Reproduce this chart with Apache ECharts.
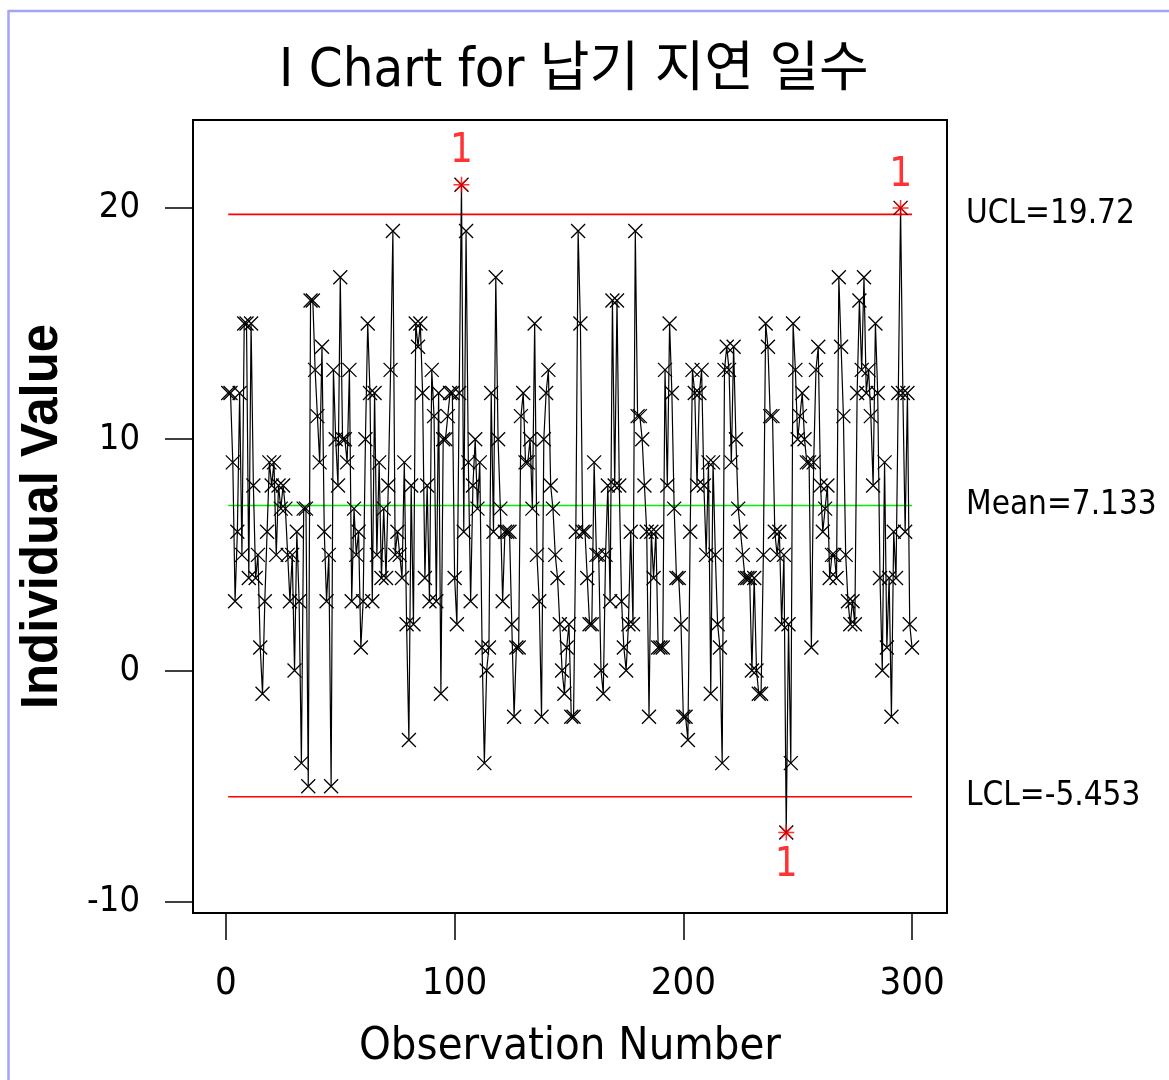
<!DOCTYPE html>
<html>
<head>
<meta charset="utf-8">
<script src="https://cdn.jsdelivr.net/npm/echarts@6/dist/echarts.min.js"></script>
<style>
html,body{margin:0;padding:0;background:#fff;}
#chart{width:1169px;height:1080px;}
</style>
</head>
<body>
<div id="chart"></div>
<script>
// ---- data ----
const chartTitle = 'I Chart for 납기 지연 일수';
const xAxisName = 'Observation Number';
const yAxisName = 'Individual Value';
const xTickValues = [0, 100, 200, 300];
const yTickValues = [-10, 0, 10, 20];
const UCL = 19.72;
const MEAN = 7.133;
const LCL = -5.453;
const obsValues = [
12,12,9,3,6,12,5,15,15,4,
15,8,4,5,1,-1,3,6,9,8,
9,5,8,7,8,7,5,3,5,0,
6,3,-4,7,7,-5,16,16,13,11,
9,14,6,3,5,-5,13,10,8,17,
10,10,9,13,3,7,5,6,1,3,
10,15,12,3,12,5,9,4,7,4,
8,13,19,5,6,5,4,9,2,-3,
8,2,15,14,15,12,4,8,3,13,
11,3,12,-1,10,10,11,12,12,4,
2,12,21,6,19,9,3,8,10,7,
9,1,-4,0,1,12,6,17,10,7,
3,6,6,6,2,-2,1,1,11,12,
9,9,10,7,15,5,3,-2,10,12,
13,8,7,5,4,2,0,-1,1,2,
-2,-2,6,19,15,6,6,4,2,2,
9,5,5,0,-1,5,8,3,16,8,
16,8,3,1,0,2,6,2,19,11,
11,10,8,6,-2,6,4,6,1,1,
1,13,8,15,12,7,4,4,2,-2,
-2,-3,6,13,12,8,12,13,8,5,
9,-1,9,5,2,1,-4,13,14,13,
9,14,10,7,6,5,4,4,4,0,
4,0,-1,-1,5,15,14,11,11,6,
5,6,2,5,-7,2,-4,15,13,10,
11,12,10,9,9,1,9,13,14,8,
6,7,8,4,5,5,4,17,14,11,
5,3,2,3,2,12,16,13,17,12,
13,11,8,15,12,4,0,9,1,4,
-2,6,4,12,20,12,6,12,2,1
];

// ---- build ----
const narrow = "'Liberation Sans Narrow','DejaVu Sans Condensed','Liberation Sans','Noto Sans CJK KR',sans-serif";
const mainData = obsValues.map((v, i) => [i + 1, v]);
const nObs = obsValues.length;
const outData = mainData.filter(d => d[1] > UCL || d[1] < LCL).map(d => ({
  value: d,
  label: { position: d[1] > UCL ? 'top' : 'bottom' }
}));
function limitSeries(name, val, color, text) {
  return {
    type: 'line', name: name, data: [[1, val], [nObs, val]],
    symbol: 'none', silent: true, z: 3,
    lineStyle: { color: color, width: 1.6 },
    endLabel: { show: true, formatter: text, distance: 54, color: '#000', fontSize: 33, fontFamily: narrow }
  };
}
const chart = echarts.init(document.getElementById('chart'), null, { renderer: 'canvas' });
chart.setOption({
  animation: false,
  backgroundColor: '#fff',
  title: {
    text: chartTitle, left: 274, top: 40,
    textStyle: { fontSize: 54, fontWeight: 'normal', color: '#000', fontFamily: narrow }
  },
  grid: { left: 193, top: 120, width: 754, height: 793, show: true, borderColor: '#000', borderWidth: 2, backgroundColor: 'transparent' },
  xAxis: {
    type: 'value', min: -14.4, max: 315.3,
    name: xAxisName, nameLocation: 'middle', nameGap: 112,
    nameTextStyle: { fontSize: 45, color: '#000', fontFamily: narrow },
    axisLine: { show: false, onZero: false },
    splitLine: { show: false },
    axisTick: { show: true, customValues: xTickValues, length: 27, lineStyle: { color: '#000', width: 1.5 } },
    axisLabel: { customValues: xTickValues, margin: 52, fontSize: 38, color: '#000', fontFamily: narrow }
  },
  yAxis: {
    type: 'value', min: -10.48, max: 23.8,
    name: yAxisName, nameLocation: 'middle', nameGap: 125, nameRotate: 90,
    nameTextStyle: { fontSize: 51, fontWeight: 'bold', color: '#000', fontFamily: "'Liberation Sans',Arial,sans-serif" },
    axisLine: { show: false, onZero: false },
    splitLine: { show: false },
    axisTick: { show: true, customValues: yTickValues, length: 28, lineStyle: { color: '#000', width: 1.5 } },
    axisLabel: { customValues: yTickValues, margin: 53, fontSize: 36, color: '#000', fontFamily: narrow }
  },
  graphic: [
    { type: 'line', shape: { x1: 8.5, y1: 10, x2: 8.5, y2: 1080 }, style: { stroke: '#a4a4f4', lineWidth: 2.5 } },
    { type: 'line', shape: { x1: 8, y1: 11, x2: 1169, y2: 11 }, style: { stroke: '#a4a4f4', lineWidth: 2.5 } }
  ],
  series: [
    limitSeries('UCL', UCL, '#ff0000', 'UCL=' + UCL),
    limitSeries('Mean', MEAN, '#00f000', 'Mean=' + MEAN),
    limitSeries('LCL', LCL, '#ff0000', 'LCL=' + LCL),
    {
      type: 'line', name: 'I', data: mainData, z: 4,
      symbol: 'path://M0,0L10,10M10,0L0,10', symbolSize: 14,
      lineStyle: { color: '#000', width: 1.2 },
      itemStyle: { color: '#000', borderColor: '#000', borderWidth: 1.3 }
    },
    {
      type: 'scatter', name: 'out', data: outData, z: 6,
      symbol: 'path://M0,5L10,5M5,0L5,10M1.5,1.5L8.5,8.5M8.5,1.5L1.5,8.5', symbolSize: 16,
      itemStyle: { color: '#ff0000', borderColor: '#ff0000', borderWidth: 1.5 },
      label: { show: true, formatter: '1', color: '#ff0000', fontSize: 40, fontFamily: narrow, distance: 4 }
    }
  ]
});
</script>
</body>
</html>
